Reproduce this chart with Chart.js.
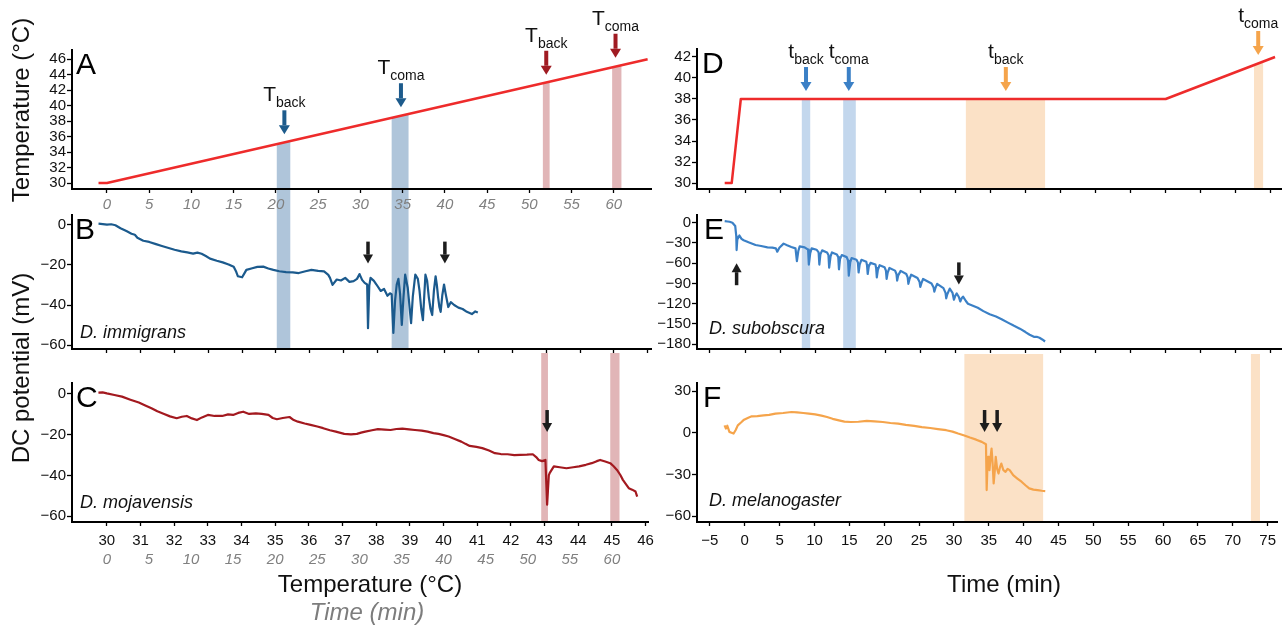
<!DOCTYPE html>
<html>
<head>
<meta charset="utf-8">
<script src="https://cdn.jsdelivr.net/npm/chart.js@4.4.1/dist/chart.umd.min.js"></script>
<style>
  html, body { margin: 0; padding: 0; background: #fff; }
  #wrap { position: relative; width: 1282px; height: 626px; overflow: hidden; font-family: 'Liberation Sans', Arial, sans-serif; }
  canvas { position: absolute; }
  .lbl { position: absolute; white-space: nowrap; font-size: 24px; line-height: 24px; color: #111; z-index: 10; }
  .rot { transform: translate(-50%, -50%) rotate(-90deg); }
  .ctr { transform: translateX(-50%); }
  .grey { color: #7d7d7d; font-style: italic; }
</style>
</head>
<body>
<div id="wrap">
  <canvas id="cA" width="660" height="222" style="left:0;top:0;z-index:6"></canvas>
  <canvas id="cB" width="660" height="170" style="left:0;top:189px;z-index:5"></canvas>
  <canvas id="cC" width="660" height="273" style="left:0;top:353px;z-index:4"></canvas>
  <canvas id="cD" width="632" height="222" style="left:650px;top:0;z-index:6"></canvas>
  <canvas id="cE" width="632" height="170" style="left:650px;top:189px;z-index:5"></canvas>
  <canvas id="cF" width="632" height="272" style="left:650px;top:354px;z-index:4"></canvas>

  <div class="lbl rot" style="left:21px;top:110px">Temperature (°C)</div>
  <div class="lbl rot" style="left:21px;top:368px">DC potential (mV)</div>
  <div class="lbl ctr" style="left:370px;top:572px">Temperature (°C)</div>
  <div class="lbl ctr grey" style="left:367px;top:600px">Time (min)</div>
  <div class="lbl ctr" style="left:1004px;top:572px">Time (min)</div>
</div>
<script>
// ---- data ----
// left column: x = time (min) of the 0.25 °C/min ramp
var TIME_TICKS_L = [0, 5, 10, 15, 20, 25, 30, 35, 40, 45, 50, 55, 60];
var TEMP_TICK_MIN = [0, 4, 8, 12, 16, 20, 24, 28, 32, 36, 40, 44, 48, 52, 56, 60, 64];
var TEMP_TICK_LABELS = ['30', '31', '32', '33', '34', '35', '36', '37', '38', '39', '40', '41', '42', '43', '44', '45', '46'];
var TIME_TICKS_R = [-5, 0, 5, 10, 15, 20, 25, 30, 35, 40, 45, 50, 55, 60, 65, 70, 75];

var A_YTICKS = [30, 32, 34, 36, 38, 40, 42, 44, 46];
var B_YTICKS = [0, -20, -40, -60];
var C_YTICKS = [0, -20, -40, -60];
var D_YTICKS = [30, 32, 34, 36, 38, 40, 42];
var E_YTICKS = [0, -30, -60, -90, -120, -150, -180];
var F_YTICKS = [30, 0, -30, -60];

// temperature ramps
var A_TIME = [-1, 0, 64];
var A_TEMP = [30, 30, 46];
var D_TIME = [-2.9, -1.9, -0.6, 60, 75.6];
var D_TEMP = [30, 30, 38, 38, 42];

// D. immigrans
var B_TIME = [-1.0, -0.5, 0, 0.5, 1.0, 1.6, 2.3, 2.9, 3.3, 3.6, 4.3, 5.0, 5.8, 6.5, 7.3, 8.0, 8.8, 9.5, 10.2, 10.7,
  11.2, 11.7, 12.2, 13.0, 13.7, 14.4, 15.0, 15.3, 15.5, 16.0, 16.3, 16.5, 17.2, 17.8, 18.5, 19.1, 19.7, 20.4, 21.2, 22.0,
  22.7, 23.5, 24.2, 25.0, 25.7, 26.2, 26.4, 26.7, 27.2, 27.7, 28.2, 28.7, 29.2, 29.6, 29.9, 30.2, 30.5, 30.8, 30.9, 31.05,
  31.2, 31.6, 31.9, 32.4, 32.8, 33.2, 33.5, 33.7, 33.9, 34.1, 34.3, 34.5, 34.7, 34.9, 35.1, 35.3, 35.6, 35.8, 36.0, 36.2,
  36.5, 36.8, 37.0, 37.2, 37.4, 37.55, 37.7, 37.9, 38.1, 38.3, 38.5, 38.7, 38.9, 39.05, 39.2, 39.35, 39.5, 39.7, 39.9, 40.1,
  40.4, 40.7, 41.1, 41.6, 42.1, 42.6, 43.2, 43.6, 43.9];
var B_MV = [0.5, 0.3, 0, 0.2, -0.3, -1.8, -3.2, -4.5, -5.0, -6.5, -8.0, -8.6, -9.7, -10.6, -11.6, -12.5, -13.3, -13.8, -14.4, -13.9,
  -14.5, -15.6, -16.9, -18.0, -18.8, -19.8, -21.0, -23.5, -25.7, -26.2, -24.0, -22.5, -21.7, -21.0, -20.9, -21.8, -22.5, -23.2, -23.6, -23.8,
  -24.1, -23.2, -22.5, -23.0, -23.3, -25.0, -26.5, -30.0, -27.3, -27.8, -26.5, -28.5, -28.1, -27.0, -24.6, -27.5, -29.0, -29.8, -51.5, -30.5,
  -26.5, -28.0, -29.8, -33.0, -32.0, -35.4, -34.2, -34.6, -53.9, -38.0, -29.8, -27.0, -34.6, -49.9, -36.0, -24.9, -31.4, -40.0, -49.0, -36.0,
  -24.9, -27.0, -33.0, -42.0, -47.5, -36.0, -24.9, -28.0, -36.2, -42.0, -45.0, -33.0, -25.7, -30.0, -36.2, -41.0, -43.4, -35.0, -29.8, -34.6,
  -41.0, -38.6, -40.0, -41.3, -42.0, -43.4, -44.5, -43.2, -43.7];

// D. mojavensis
var C_TIME = [-1.0, -0.5, 0, 0.9, 1.8, 2.8, 3.8, 4.5, 5.3, 6.0, 6.8, 7.5, 8.3, 8.9, 9.5, 10.1, 10.7, 11.3, 12.0, 12.8,
  13.7, 14.4, 15.0, 15.6, 16.2, 16.9, 17.7, 18.4, 19.2, 19.7, 20.2, 20.9, 21.7, 22.2, 22.7, 23.5, 24.2, 25.0, 25.7, 26.5,
  27.2, 28.2, 29.0, 29.7, 30.2, 30.7, 31.5, 32.2, 33.0, 33.7, 34.4, 35.1, 35.9, 36.6, 37.4, 38.1, 38.8, 39.4, 40.0, 40.6,
  41.4, 42.1, 42.6, 43.1, 43.9, 44.6, 45.4, 46.1, 46.8, 47.6, 48.4, 49.1, 49.9, 50.6, 51.0, 51.3, 51.7, 52.1, 52.3, 52.5,
  52.6, 53.1, 53.8, 54.6, 55.4, 56.1, 56.9, 57.6, 58.2, 58.6, 59.2, 59.8, 60.2, 60.6, 61.0, 61.3, 61.7, 62.0, 62.4, 62.8, 63.0];
var C_MV = [0.7, 0.8, 0.3, -0.5, -1.3, -2.8, -4.2, -5.5, -7.0, -8.5, -9.8, -11.0, -11.9, -11.2, -10.8, -12.0, -12.8, -11.5, -10.3, -10.8,
  -10.8, -10.0, -10.3, -9.3, -8.7, -9.8, -9.5, -9.8, -10.3, -11.8, -12.4, -11.8, -11.3, -12.8, -13.6, -14.5, -15.2, -16.0, -16.8, -17.8,
  -18.5, -19.6, -19.8, -19.6, -19.0, -18.5, -17.8, -17.3, -17.5, -17.7, -17.2, -17.0, -17.4, -17.7, -18.0, -18.5, -19.2, -19.6, -20.2, -20.9,
  -22.2, -23.4, -24.5, -25.5, -26.0, -26.6, -27.8, -29.1, -29.5, -29.6, -30.0, -29.9, -29.8, -29.6, -31.0, -32.4, -33.0, -32.4, -54.4, -40.0,
  -38.9, -35.6, -36.0, -36.5, -36.0, -35.6, -34.8, -34.0, -33.0, -32.4, -33.2, -34.0, -35.5, -37.3, -39.8, -42.2, -44.5, -46.3, -47.0, -47.9, -50.4];

// D. subobscura
var E_TIME = [-2.9, -2.5, -2.2, -1.8, -1.4, -1.25, -1.2, -1.1, -0.8, -0.5, -0.2, 0.5, 1.5, 2.3, 3.2, 3.9, 4.4, 4.6, 4.9, 5.5,
  6.0, 6.6, 7.2, 7.4, 7.6, 7.8, 8.5, 9.0, 9.1, 9.3, 9.5, 10.2, 10.5, 10.6, 10.75, 11.0, 11.7, 11.9, 12.0, 12.2,
  12.4, 13.1, 13.3, 13.4, 13.55, 13.8, 14.5, 14.7, 14.8, 15.0, 15.2, 15.9, 16.1, 16.2, 16.35, 16.6, 17.3, 17.4, 17.5, 17.65,
  17.9, 18.6, 18.7, 18.8, 18.95, 19.2, 19.9, 20.1, 20.2, 20.35, 20.6, 21.4, 21.6, 21.7, 21.85, 22.2, 23.0, 23.2, 23.3, 23.45,
  23.7, 24.6, 24.9, 25.0, 25.15, 25.4, 26.6, 26.9, 27.0, 27.15, 27.4, 28.3, 28.6, 28.7, 28.85, 29.2, 29.6, 29.8, 30.0, 30.2,
  30.5, 30.7, 30.9, 31.1, 31.5, 31.8, 32.5, 33.2, 34.0, 34.9, 35.8, 36.6, 37.5, 38.3, 39.2, 40.0, 40.6, 41.2, 41.6, 42.0,
  42.4, 42.8];
var E_MV = [2.4, 1.8, 1.4, 0.0, -4.8, -20, -40.5, -25, -19, -24, -26, -29, -33, -34.5, -36.5, -37, -38, -43, -37, -31,
  -33.5, -36, -38, -57, -42, -35, -36.5, -40, -62, -45, -38, -40, -44, -62, -47, -41, -44, -48, -66.7, -50,
  -44, -47, -51, -69, -54, -48, -51, -56, -78.6, -59, -52.4, -55, -59, -73.8, -62, -55, -58, -63, -76, -65,
  -59.5, -62, -67, -81, -70, -63, -66, -71, -83.3, -74, -67, -71, -76, -85.7, -78, -71.4, -76, -81, -90.5, -84,
  -77, -82, -88, -95, -90, -83.3, -90, -96, -102, -97, -90.5, -97, -104, -112, -106, -97.6, -104, -114, -108, -104.8,
  -110, -116.7, -112, -109.5, -116, -120, -123, -126, -131, -135.7, -139, -142.9, -148, -152.4, -157, -162, -166, -169, -169, -170.5,
  -173, -176];

// D. melanogaster
var F_TIME = [-2.9, -2.7, -2.5, -2.2, -1.9, -1.6, -1.3, -1.0, -0.5, -0.1, 0.5, 1.0, 1.8, 2.7, 3.5, 4.4, 5.5, 6.7, 7.5, 8.4,
  9.2, 10.1, 11.0, 11.8, 12.6, 13.5, 14.3, 15.2, 16.3, 17.5, 18.6, 19.8, 20.9, 22.0, 23.1, 24.3, 25.4, 26.6, 27.7, 28.9,
  29.8, 30.6, 31.5, 32.3, 33.2, 34.0, 34.6, 34.7, 34.8, 34.9, 35.0, 35.1, 35.25, 35.4, 35.55, 35.7, 35.85, 36.0, 36.2, 36.4,
  36.6, 36.8, 37.1, 37.4, 37.7, 38.0, 38.5, 39.1, 39.7, 40.3, 40.8, 41.4, 42.0, 42.6, 43.1];
var F_MV = [5.3, 3.0, 5.0, 0.6, 0.0, -0.6, 2.0, 5.3, 7.5, 9.4, 10.8, 11.8, 12.0, 12.5, 12.8, 13.7, 14.2, 14.9, 14.6, 14.2,
  13.7, 13.2, 12.3, 11.3, 10.0, 8.9, 8.0, 7.7, 7.9, 8.5, 8.2, 7.7, 7.0, 6.5, 5.6, 4.9, 4.0, 3.4, 2.6, 1.8,
  0.8, -0.6, -2.0, -3.5, -5.0, -6.6, -8.3, -41.3, -25, -17.4, -23, -27, -18, -11.4, -22, -36.5, -28, -17.4, -26, -29.4,
  -25, -22.2, -27, -28.2, -26, -27, -30.6, -33, -35.3, -38, -40.1, -41, -41.3, -41.8, -42];

// shaded windows [start, end] in minutes
var L_BLUE_BANDS = [[20.1, 21.7], [33.7, 35.7]];
var L_RED_BANDS = [[51.6, 52.4], [59.8, 60.9]];
var R_BLUE_BANDS = [[8.1, 9.3], [14.0, 15.8]];
var R_ORANGE_BANDS = [[31.5, 42.8], [72.6, 73.9]];

// arrows: [time, tip value, subscript]
var A_ARROWS_BLUE = [[21.0, 36.3, 'back'], [34.8, 39.8, 'coma']];
var A_ARROWS_RED = [[52.0, 44.0, 'back'], [60.2, 46.2, 'coma']];
var D_ARROWS_BLUE = [[8.7, 38.76, 'back'], [14.8, 38.76, 'coma']];
var D_ARROWS_ORANGE = [[37.2, 38.76, 'back'], [73.2, 42.19, 'coma']];
var B_ARROWS = [[30.9, -19.4], [40.0, -19.4]];
var C_ARROWS = [[52.3, -18.7]];
var E_ARROWS_UP = [[-1.2, -60]];
var E_ARROWS_DOWN = [[30.5, -91.4]];
var F_ARROWS = [[34.4, 0.5], [36.2, 0.5]];

// ---- style ----
var FONT = "'Liberation Sans', Arial, sans-serif";
var RAMP_RED = '#ee2b2b';
var COL = {
  bBlue: '#1b5a8d', cRed: '#a3191f', eBlue: '#3b80c6', fOrange: '#f5a44b',
  lBlueBand: '#afc5da', lRedBand: '#e1b5b7', rBlueBand: '#c3d7ed', rOrangeBand: '#fbe1c6',
  arrBlueL: '#1d5b8c', arrRedL: '#a01b22', arrBlueR: '#3b80c6', arrOrangeR: '#f5a44b', black: '#1c1c1c'
};

Chart.defaults.font.family = FONT;

function interp(xs, ys, t) {
  for (var i = 1; i < xs.length; i++) {
    if (t <= xs[i]) {
      var f = (t - xs[i - 1]) / (xs[i] - xs[i - 1]);
      return ys[i - 1] + f * (ys[i] - ys[i - 1]);
    }
  }
  return ys[ys.length - 1];
}

function pts(xs, ys) {
  return xs.map(function (x, i) { return { x: x, y: ys[i] }; });
}

function fmt(v) { return v < 0 ? '\u2212' + Math.abs(v) : String(v); }

function drawArrow(ctx, x, tip, dir, len, color, sw, hw, hh) {
  var tail = tip - dir * len, base = tip - dir * hh;
  ctx.fillStyle = color;
  ctx.fillRect(x - sw / 2, Math.min(tail, base), sw, Math.abs(base - tail));
  ctx.beginPath();
  ctx.moveTo(x - hw / 2, base);
  ctx.lineTo(x + hw / 2, base);
  ctx.lineTo(x, tip);
  ctx.closePath();
  ctx.fill();
}

// shaded time windows, drawn under everything
var bandsPlugin = {
  id: 'bands',
  beforeDraw: function (chart, args, o) {
    if (!o.list) return;
    var ctx = chart.ctx, a = chart.chartArea, x = chart.scales.x, y = chart.scales.y;
    ctx.save();
    o.list.forEach(function (b) {
      var x0 = x.getPixelForValue(b.t0), x1 = x.getPixelForValue(b.t1);
      ctx.fillStyle = b.color;
      ctx.beginPath();
      if (o.lineX) {
        ctx.moveTo(x0, y.getPixelForValue(interp(o.lineX, o.lineY, b.t0)));
        ctx.lineTo(x1, y.getPixelForValue(interp(o.lineX, o.lineY, b.t1)));
      } else {
        ctx.moveTo(x0, 0);
        ctx.lineTo(x1, 0);
      }
      ctx.lineTo(x1, a.bottom);
      ctx.lineTo(x0, a.bottom);
      ctx.closePath();
      ctx.fill();
    });
    ctx.restore();
  }
};

// arrows, panel letter, species name
var annotPlugin = {
  id: 'annot',
  afterDatasetsDraw: function (chart, args, o) {
    var ctx = chart.ctx, a = chart.chartArea, x = chart.scales.x, y = chart.scales.y;
    ctx.save();
    ctx.textAlign = 'left';
    ctx.textBaseline = 'alphabetic';
    (o.arrows || []).forEach(function (ar) {
      var px = x.getPixelForValue(ar.t), tip = y.getPixelForValue(ar.v);
      var dir = ar.up ? -1 : 1;
      if (ar.label) {
        drawArrow(ctx, px, tip, dir, 24, ar.color, 4, 11, 9);
        var top = tip - 24;
        ctx.fillStyle = '#111';
        ctx.font = '21px ' + FONT;
        var w1 = ctx.measureText(ar.label).width;
        ctx.font = '14px ' + FONT;
        var w2 = ctx.measureText(ar.sub).width;
        var sx = px - (w1 + w2) / 2;
        ctx.font = '21px ' + FONT;
        ctx.fillText(ar.label, sx, top - 9);
        ctx.font = '14px ' + FONT;
        ctx.fillText(ar.sub, sx + w1, top - 3);
      } else {
        drawArrow(ctx, px, tip, dir, 22, ar.color, 3.5, 10, 9);
      }
    });
    ctx.fillStyle = '#000';
    if (o.letter) {
      ctx.font = '30px ' + FONT;
      ctx.fillText(o.letter, a.left + o.letterDx, a.top + 24);
    }
    if (o.species) {
      ctx.font = 'italic 18px ' + FONT;
      ctx.fillStyle = '#111';
      ctx.fillText(o.species, a.left + o.speciesDx, a.bottom - o.speciesDy);
    }
    ctx.restore();
  }
};

function yAxis(min, max, ticks, width) {
  return {
    type: 'linear', position: 'left', min: min, max: max,
    afterBuildTicks: function (s) { s.ticks = ticks.map(function (v) { return { value: v }; }); },
    afterFit: function (s) { s.width = width; },
    grid: { drawOnChartArea: false, drawTicks: true, tickLength: 5, tickColor: '#000', tickWidth: 1.3 },
    border: { display: true, color: '#000', width: 2 },
    ticks: { autoSkip: false, color: '#111', font: { size: 15 }, padding: 1, callback: fmt }
  };
}

function xAxis(min, max, ticks, height, labels, opt) {
  opt = opt || {};
  return {
    type: 'linear', position: 'bottom', min: min, max: max,
    afterBuildTicks: function (s) { s.ticks = ticks.map(function (v) { return { value: v }; }); },
    afterFit: function (s) { s.height = height; },
    grid: { drawOnChartArea: false, drawTicks: opt.noTicks ? false : true, tickLength: 4, tickColor: '#000', tickWidth: 1.3 },
    border: { display: !opt.noBorder, color: '#000', width: 2 },
    weight: opt.weight || 0,
    ticks: {
      autoSkip: false, maxRotation: 0, minRotation: 0,
      padding: opt.padding || 3,
      color: opt.color || '#111',
      font: { size: 15, style: opt.italic ? 'italic' : 'normal' },
      callback: function (v, i) { return labels ? labels[i] : ''; }
    }
  };
}

function bands(list, color) {
  return list.map(function (b) { return { t0: b[0], t1: b[1], color: color }; });
}

function arrows(list, color, sub) {
  return list.map(function (r) {
    return { t: r[0], v: r[1], color: color, label: sub, sub: r[2] };
  });
}

function trace(xs, ys, color, width) {
  return {
    data: pts(xs, ys), borderColor: color, borderWidth: width,
    pointRadius: 0, tension: 0, fill: false, borderJoinStyle: 'round'
  };
}

function make(id, cfg) {
  return new Chart(document.getElementById(id), {
    type: 'line',
    data: { datasets: [cfg.dataset] },
    options: {
      responsive: false, animation: false, events: [],
      layout: { autoPadding: false, padding: cfg.padding },
      plugins: {
        legend: { display: false }, tooltip: { enabled: false },
        bands: cfg.bands || {},
        annot: cfg.annot || {}
      },
      scales: cfg.scales
    },
    plugins: [bandsPlugin, annotPlugin]
  });
}

var LX = [-4.14, 64.4];
var RX = [-6.85, 76.45];
var TIME_LABELS_L = TIME_TICKS_L.map(String);
var TIME_LABELS_R = TIME_TICKS_R.map(fmt);

make('cA', {
  dataset: trace(A_TIME, A_TEMP, RAMP_RED, 2.5),
  padding: { top: 50, right: 9, bottom: 0, left: 0 },
  bands: { list: bands(L_BLUE_BANDS, COL.lBlueBand).concat(bands(L_RED_BANDS, COL.lRedBand)), lineX: A_TIME, lineY: A_TEMP },
  annot: {
    arrows: arrows(A_ARROWS_BLUE, COL.arrBlueL, 'T').concat(arrows(A_ARROWS_RED, COL.arrRedL, 'T')),
    letter: 'A', letterDx: 4
  },
  scales: {
    x: xAxis(LX[0], LX[1], TIME_TICKS_L, 33, TIME_LABELS_L, { italic: true, color: '#808080', padding: 3 }),
    y: yAxis(29.23, 47.2, A_YTICKS, 72)
  }
});

make('cB', {
  dataset: trace(B_TIME, B_MV, COL.bBlue, 2.2),
  padding: { top: 26, right: 9, bottom: 0, left: 0 },
  bands: { list: bands(L_BLUE_BANDS, COL.lBlueBand) },
  annot: {
    arrows: B_ARROWS.map(function (r) { return { t: r[0], v: r[1], color: COL.black }; }),
    letter: 'B', letterDx: 3, species: 'D. immigrans', speciesDx: 8, speciesDy: 11
  },
  scales: {
    x: xAxis(LX[0], LX[1], TEMP_TICK_MIN, 6, null),
    y: yAxis(-61.9, 4.8, B_YTICKS, 72)
  }
});

make('cC', {
  dataset: trace(C_TIME, C_MV, COL.cRed, 2.2),
  padding: { top: 30, right: 9, bottom: 56, left: 0 },
  bands: { list: bands(L_RED_BANDS, COL.lRedBand) },
  annot: {
    arrows: C_ARROWS.map(function (r) { return { t: r[0], v: r[1], color: COL.black }; }),
    letter: 'C', letterDx: 4, species: 'D. mojavensis', speciesDx: 8, speciesDy: 14
  },
  scales: {
    x: xAxis(LX[0], LX[1], TEMP_TICK_MIN, 28, TEMP_TICK_LABELS, { padding: 6 }),
    x2: xAxis(LX[0], LX[1], TIME_TICKS_L, 20, TIME_LABELS_L, { italic: true, color: '#808080', padding: 1, noTicks: true, noBorder: true, weight: 1 }),
    y: yAxis(-62.9, 5.4, C_YTICKS, 72)
  }
});

make('cD', {
  dataset: trace(D_TIME, D_TEMP, RAMP_RED, 2.5),
  padding: { top: 49, right: 1, bottom: 0, left: 0 },
  bands: { list: bands(R_BLUE_BANDS, COL.rBlueBand).concat(bands(R_ORANGE_BANDS, COL.rOrangeBand)), lineX: D_TIME, lineY: D_TEMP },
  annot: {
    arrows: arrows(D_ARROWS_BLUE, COL.arrBlueR, 't').concat(arrows(D_ARROWS_ORANGE, COL.arrOrangeR, 't')),
    letter: 'D', letterDx: 5
  },
  scales: {
    x: xAxis(RX[0], RX[1], TIME_TICKS_R, 33, null),
    y: yAxis(29.43, 42.76, D_YTICKS, 47)
  }
});

make('cE', {
  dataset: trace(E_TIME, E_MV, COL.eBlue, 2.2),
  padding: { top: 26, right: 1, bottom: 0, left: 0 },
  bands: { list: bands(R_BLUE_BANDS, COL.rBlueBand) },
  annot: {
    arrows: E_ARROWS_UP.map(function (r) { return { t: r[0], v: r[1], color: COL.black, up: true }; })
      .concat(E_ARROWS_DOWN.map(function (r) { return { t: r[0], v: r[1], color: COL.black }; })),
    letter: 'E', letterDx: 7, species: 'D. subobscura', speciesDx: 12, speciesDy: 15
  },
  scales: {
    x: xAxis(RX[0], RX[1], TIME_TICKS_R, 5, null),
    y: yAxis(-187.1, 11.4, E_YTICKS, 47)
  }
});

make('cF', {
  dataset: trace(F_TIME, F_MV, COL.fOrange, 2.2),
  padding: { top: 29, right: 1, bottom: 76, left: 0 },
  bands: { list: bands(R_ORANGE_BANDS, COL.rOrangeBand) },
  annot: {
    arrows: F_ARROWS.map(function (r) { return { t: r[0], v: r[1], color: COL.black }; }),
    letter: 'F', letterDx: 6, species: 'D. melanogaster', speciesDx: 12, speciesDy: 16
  },
  scales: {
    x: xAxis(RX[0], RX[1], TIME_TICKS_R, 28, TIME_LABELS_R, { padding: 6 }),
    y: yAxis(-64.3, 35.8, F_YTICKS, 47)
  }
});
</script>
</body>
</html>
